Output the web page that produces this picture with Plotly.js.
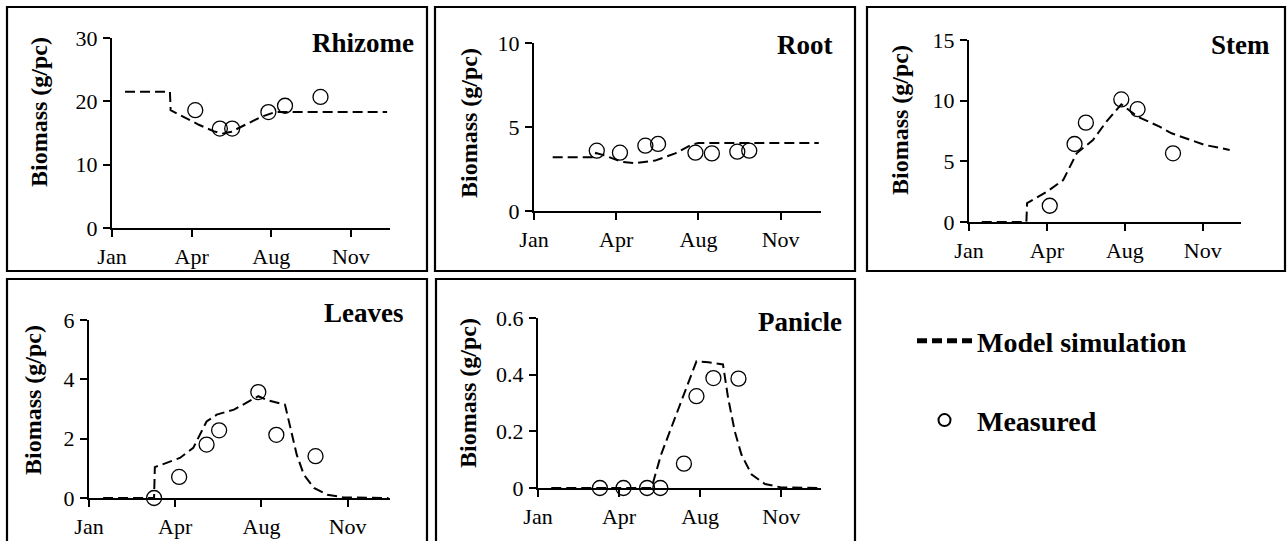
<!DOCTYPE html>
<html><head><meta charset="utf-8">
<script src="https://cdn.plot.ly/plotly-3.0.1.min.js"></script>
<style>html,body{margin:0;padding:0;background:#fff}#chart{width:1287px;height:541px}</style>
</head><body><div id="chart"></div><script>
// ---- data (x = day of year) ----
const tickDays = [0, 110, 220, 330];
const tickLabels = ['Jan', 'Apr', 'Aug', 'Nov'];
const panelNames = ['Rhizome', 'Root', 'Stem', 'Leaves', 'Panicle'];
const yMax = [30, 10, 15, 6, 0.6];
const yTicks = [[0, 10, 20, 30], [0, 5, 10], [0, 5, 10, 15], [0, 2, 4, 6], [0, 0.2, 0.4, 0.6]];

const rhizomeModelDay = [18, 80, 81, 100, 120, 140, 152, 165, 185, 205, 225, 240, 300, 380];
const rhizomeModelVal = [21.5, 21.5, 18.6, 17.5, 16.3, 15.3, 14.9, 15.2, 16.3, 17.5, 18.3, 18.3, 18.3, 18.3];
const rhizomeMeasDay = [115, 149, 166, 216, 239, 288];
const rhizomeMeasVal = [18.6, 15.7, 15.7, 18.3, 19.3, 20.7];

const rootModelDay = [25, 81, 83, 95, 117, 135, 162, 189, 211, 220, 300, 381];
const rootModelVal = [3.2, 3.2, 3.45, 3.3, 2.93, 2.84, 3.0, 3.43, 3.95, 4.05, 4.05, 4.05];
const rootMeasDay = [84, 115, 149, 166, 216, 238, 272, 288];
const rootMeasVal = [3.59, 3.47, 3.89, 3.99, 3.47, 3.43, 3.53, 3.59];

const stemModelDay = [18, 81, 82, 110, 133, 152, 175, 194, 215, 238, 269, 286, 333, 368];
const stemModelVal = [0, 0, 1.55, 2.5, 3.46, 5.66, 6.76, 8.27, 9.7, 8.68, 7.86, 7.31, 6.35, 5.94];
const stemMeasDay = [114, 149, 165, 215, 238, 288];
const stemMeasVal = [1.34, 6.43, 8.19, 10.1, 9.3, 5.66];

const leavesModelDay = [18, 83, 84, 116, 133, 150, 163, 185, 216, 227, 250, 257, 265, 274, 287, 304, 325, 382];
const leavesModelVal = [0, 0, 1.04, 1.35, 1.69, 2.58, 2.81, 2.98, 3.43, 3.3, 3.15, 2.36, 1.46, 0.79, 0.34, 0.11, 0.02, 0];
const leavesMeasDay = [83, 115, 150, 166, 216, 239, 289];
const leavesMeasVal = [0, 0.71, 1.80, 2.28, 3.57, 2.13, 1.41];

const panicleModelDay = [18, 154, 167, 186, 198, 215, 231, 251, 258, 267, 276, 290, 308, 330, 383];
const panicleModelVal = [0, 0, 0.118, 0.247, 0.33, 0.447, 0.444, 0.436, 0.317, 0.2, 0.118, 0.047, 0.014, 0.002, 0];
const panicleMeasDay = [84, 116, 148, 166, 198, 215, 238, 272];
const panicleMeasVal = [0, 0, 0, 0, 0.086, 0.324, 0.388, 0.386];

// ---- layout geometry (px) ----
const W = 1287, H = 541;
const px = v => v / W, py = v => 1 - v / H;
// plot areas: [x0, x1, yTop, yBottom]
const areas = [[112, 390, 38, 228], [534, 821, 43, 211], [969, 1241, 40, 222], [89, 390, 320, 498], [538, 821, 318, 488]];
const boxes = [[7, 427, 7, 271], [435, 855, 7, 271], [867, 1285, 7, 271], [7, 427, 279, 560], [436, 855, 279, 560]];
const titlePos = [[416, 43], [835, 45], [1272, 45], [405, 313], [844, 322]];
const yTitlePos = [[39, 112], [469, 123], [900, 120], [33, 400], [468, 393]];

const models = [[rhizomeModelDay, rhizomeModelVal], [rootModelDay, rootModelVal], [stemModelDay, stemModelVal], [leavesModelDay, leavesModelVal], [panicleModelDay, panicleModelVal]];
const meas = [[rhizomeMeasDay, rhizomeMeasVal], [rootMeasDay, rootMeasVal], [stemMeasDay, stemMeasVal], [leavesMeasDay, leavesMeasVal], [panicleMeasDay, panicleMeasVal]];

const FONT = 'Liberation Serif, Times New Roman, serif';
const traces = [], shapes = [], annotations = [];
const layout = {
  width: W, height: H, margin: {l: 0, r: 0, t: 0, b: 0},
  paper_bgcolor: '#fff', plot_bgcolor: 'rgba(0,0,0,0)',
  font: {family: FONT, color: '#000'},
  showlegend: true,
  legend: {x: px(912), y: py(316), xanchor: 'left', yanchor: 'top', tracegroupgap: 40, itemwidth: 55,
           font: {family: FONT, size: 28, weight: 'bold', color: '#000'}, itemsizing: 'constant',
           bgcolor: 'rgba(0,0,0,0)'}
};

for (let i = 0; i < 5; i++) {
  const s = i === 0 ? '' : String(i + 1);
  const a = areas[i];
  layout['xaxis' + s] = {
    domain: [px(a[0]), px(a[1])], range: [0, 384], anchor: 'y' + s,
    showline: true, linecolor: '#000', linewidth: 2, ticks: 'outside', ticklen: 7, tickwidth: 2, tickcolor: '#000',
    tickvals: tickDays, ticktext: tickLabels, showgrid: false, zeroline: false, fixedrange: true,
    tickfont: {family: FONT, size: 22, color: '#000'}, ticklabelstandoff: 1
  };
  layout['yaxis' + s] = {
    domain: [py(a[3]), py(a[2])], range: [0, yMax[i]], anchor: 'x' + s,
    showline: true, linecolor: '#000', linewidth: 2, ticks: 'outside', ticklen: 7, tickwidth: 2, tickcolor: '#000',
    tickvals: yTicks[i], showgrid: false, zeroline: false, fixedrange: true,
    tickfont: {family: FONT, size: 22, color: '#000'}, ticklabelstandoff: 1
  };
  traces.push({
    type: 'scatter', mode: 'lines', x: models[i][0], y: models[i][1], xaxis: 'x' + s, yaxis: 'y' + s,
    line: {color: '#000', width: 2, dash: '10px,5px'}, name: 'Model simulation',
    showlegend: i === 0, legendgroup: 'model', hoverinfo: 'skip'
  });
  traces.push({
    type: 'scatter', mode: 'markers', x: meas[i][0], y: meas[i][1], xaxis: 'x' + s, yaxis: 'y' + s,
    marker: {symbol: 'circle-open', size: 15, color: '#000', line: {width: 1.3, color: '#000'}},
    name: 'Measured', showlegend: i === 0, legendgroup: 'meas', cliponaxis: false
  });
  const b = boxes[i];
  shapes.push({type: 'rect', xref: 'paper', yref: 'paper', x0: px(b[0]), x1: px(b[1]), y0: py(b[3]), y1: py(b[2]),
               line: {color: '#000', width: 2.2}, fillcolor: 'rgba(0,0,0,0)', layer: 'below'});
  annotations.push({xref: 'paper', yref: 'paper', x: px(titlePos[i][0]), y: py(titlePos[i][1]),
                    xanchor: 'right', yanchor: 'middle', showarrow: false, text: panelNames[i],
                    font: {family: FONT, size: 27, weight: 'bold', color: '#000'}});
  annotations.push({xref: 'paper', yref: 'paper', x: px(yTitlePos[i][0]), y: py(yTitlePos[i][1]),
                    xanchor: 'center', yanchor: 'middle', showarrow: false, text: 'Biomass (g/pc)', textangle: -90,
                    font: {family: FONT, size: 24, weight: 'bold', color: '#000'}});
}
layout.shapes = shapes;
layout.annotations = annotations;

Plotly.newPlot('chart', traces, layout, {displayModeBar: false, staticPlot: true});
</script></body></html>
